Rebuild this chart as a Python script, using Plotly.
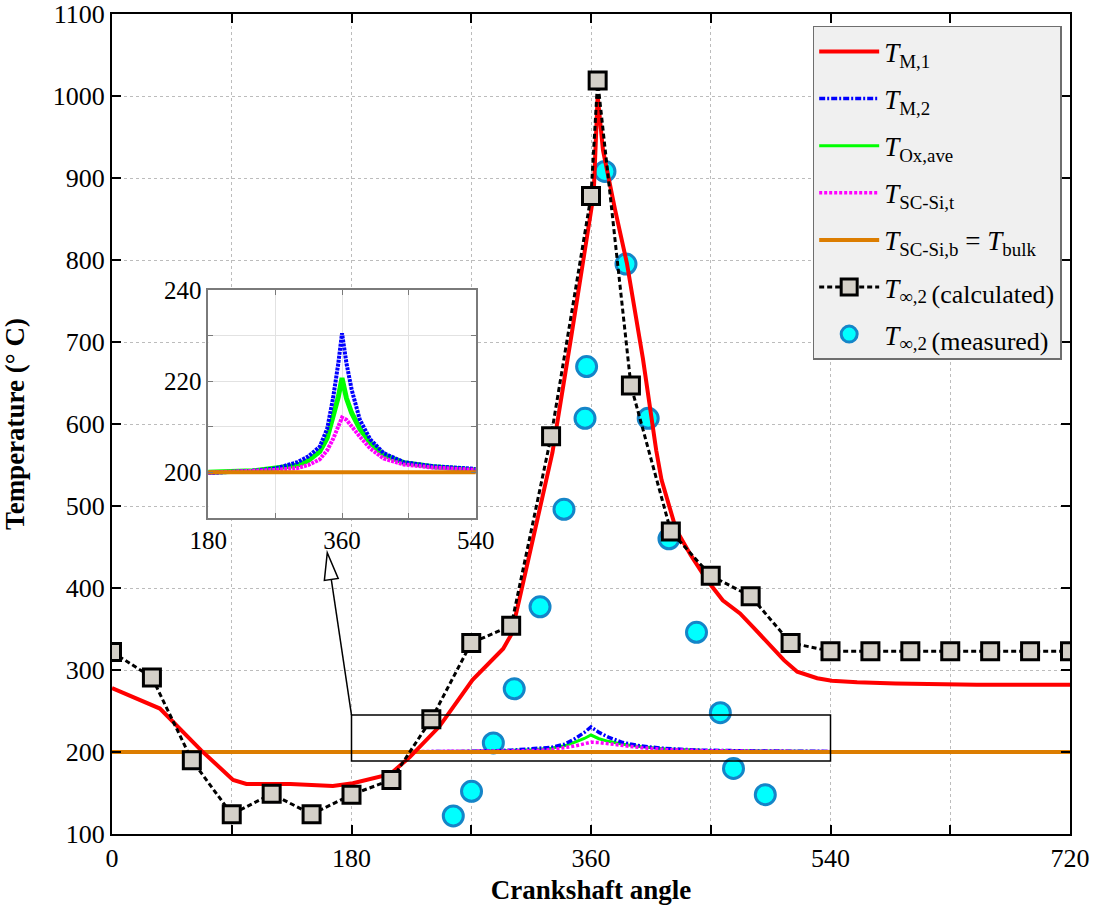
import plotly.graph_objects as go

# ---- data -------------------------------------------------------------
# T_inf,2 calculated (squares, dashed)
calc_angle = [0, 30, 60, 90, 120, 150, 180, 210, 240, 270, 300, 330, 360, 365,
              390, 420, 450, 480, 510, 540, 570, 600, 630, 660, 690, 720]
calc_temp = [322, 291, 190, 124, 149, 124, 148, 166, 240, 333, 354, 585, 878, 1019,
             647, 469, 415, 390, 333, 323, 323, 323, 323, 323, 323, 323]

# T_inf,2 measured (circles)
meas_angle = [256.5, 270.2, 286.6, 302.3, 321.7, 339.7, 355.5, 356.7, 370.5, 386.3,
              403.0, 418.6, 439.3, 457.2, 467.1, 491.0]
meas_temp = [122, 152, 211, 277, 377, 496, 607, 670, 908, 795,
             607, 460, 346, 248, 180, 148]

# T_M,1
m1_angle = [0, 36, 67, 91, 101, 134, 166, 181, 209, 224, 246, 271, 294, 300, 306,
            315, 331, 345, 362, 365, 369, 378, 387, 399, 409, 413, 424, 435, 447,
            459, 472, 482, 495, 505, 515, 530, 541, 560, 589, 616, 650, 720]
m1_temp = [278, 253, 202, 166, 161, 161, 158.5, 162, 173, 194, 231, 288, 326, 343, 385,
           450, 565, 705, 880, 1000, 934, 862, 796, 680, 568, 532, 471, 440, 410,
           385, 369, 352, 330, 312, 298, 290, 287, 285, 283.5, 282.3, 282, 282]

# oxide-layer / silicon temperatures around the combustion peak
peak_angle = [180, 240, 270, 300, 315, 330, 340, 348, 355, 360, 366, 373, 384,
              398, 416, 443, 483, 540]
m2_temp = [199.8, 200.3, 200.8, 202.2, 203.5, 205.6, 209.5, 216.3, 223.9, 230.5, 223.9,
           218.1, 211.5, 207.2, 204.2, 202.2, 201.3, 200.7]
sct_temp = [199.9, 200.2, 200.5, 200.9, 201.6, 202.8, 204.8, 207.3, 210.0, 212.0, 211.5,
            210.0, 207.8, 205.2, 203.0, 201.7, 201.0, 200.5]

ox_angle = [0, 180, 240, 270, 300, 315, 330, 340, 348, 355, 360, 366, 373, 384,
            398, 416, 443, 483, 540, 720]
ox_temp = [200.4, 200.0, 200.3, 200.8, 201.5, 202.6, 204.5, 207.5, 212.0, 216.5, 220.7,
           216.2, 213.0, 209.5, 206.5, 203.8, 202.1, 201.2, 200.5, 200.4]

bulk_angle = [0, 720]
bulk_temp = [200, 200]

# ---- styles -----------------------------------------------------------
FONT = "Liberation Serif"
RED, BLUE, GREEN, MAG, ORANGE = "#ff0000", "#0000ff", "#00ff00", "#ff00ff", "#dc7d00"

fig = go.Figure()

# measured points (drawn below the lines)
fig.add_trace(go.Scatter(
    x=meas_angle, y=meas_temp, mode="markers",
    marker=dict(symbol="circle", size=20, color="#00ffff",
                line=dict(color="#1585c8", width=3)),
    name="<i>T</i><sub>∞,2 <span style='font-size:26px'>(measured)</span></sub>",
    legendrank=7, legendgroup="g7"))

fig.add_trace(go.Scatter(x=ox_angle, y=ox_temp, mode="lines",
                         line=dict(color=GREEN, width=3),
                         name="<i>T</i><sub>Ox,ave</sub>", legendrank=3,
                         legendgroup="g3"))
fig.add_trace(go.Scatter(x=peak_angle, y=m2_temp, mode="lines",
                         line=dict(color=BLUE, width=3.5, dash="6px,2px,2px,2px"),
                         name="<i>T</i><sub>M,2</sub>", legendrank=2,
                         legendgroup="g2"))
fig.add_trace(go.Scatter(x=peak_angle, y=sct_temp, mode="lines",
                         line=dict(color=MAG, width=3.5, dash="3px,2px"),
                         name="<i>T</i><sub>SC-Si,t</sub>", legendrank=4,
                         legendgroup="g4"))
fig.add_trace(go.Scatter(x=bulk_angle, y=bulk_temp, mode="lines",
                         line=dict(color=ORANGE, width=4),
                         name="<i>T</i><sub>SC-Si,b</sub> = <i>T</i><sub>bulk</sub>",
                         legendrank=5, legendgroup="g5"))
fig.add_trace(go.Scatter(x=m1_angle, y=m1_temp, mode="lines",
                         line=dict(color=RED, width=4),
                         name="<i>T</i><sub>M,1</sub>", legendrank=1,
                         legendgroup="g1"))
fig.add_trace(go.Scatter(
    x=calc_angle, y=calc_temp, mode="lines+markers",
    line=dict(color="black", width=3, dash="5px,3px"),
    marker=dict(symbol="square", size=17, color="#d4d0c8",
                line=dict(color="black", width=3)),
    name="<i>T</i><sub>∞,2 <span style='font-size:26px'>(calculated)</span></sub>",
    legendrank=6, legendgroup="g6"))

# inset (zoom on the region 180-540 deg)
fig.add_trace(go.Scatter(x=ox_angle, y=ox_temp, mode="lines", xaxis="x2", yaxis="y2",
                         line=dict(color=GREEN, width=5), showlegend=False))
fig.add_trace(go.Scatter(x=peak_angle, y=m2_temp, mode="lines", xaxis="x2", yaxis="y2",
                         line=dict(color=BLUE, width=4, dash="3px,1px"),
                         showlegend=False))
fig.add_trace(go.Scatter(x=peak_angle, y=sct_temp, mode="lines", xaxis="x2", yaxis="y2",
                         line=dict(color=MAG, width=4, dash="3px,1px"),
                         showlegend=False))
fig.add_trace(go.Scatter(x=bulk_angle, y=bulk_temp, mode="lines", xaxis="x2", yaxis="y2",
                         line=dict(color=ORANGE, width=4), showlegend=False))

# ---- axes -------------------------------------------------------------
main_x_ticks = list(range(0, 721, 90))
main_x_text = [str(v) if v % 180 == 0 else "" for v in main_x_ticks]
inset_x_ticks = [180, 270, 360, 450, 540]
inset_x_text = [str(v) if v % 180 == 0 else "" for v in inset_x_ticks]
inset_y_ticks = [190, 200, 210, 220, 230, 240]
inset_y_text = [str(v) if v % 20 == 0 else "" for v in inset_y_ticks]

axis_common = dict(showline=True, linecolor="black", linewidth=2, mirror="ticks",
                   ticks="inside", ticklen=9, tickwidth=1.5, tickcolor="black",
                   showgrid=True, gridcolor="#bcbcbc", griddash="dot", gridwidth=1,
                   zeroline=False, automargin=False,
                   tickfont=dict(family=FONT, size=26, color="black"))

inset_common = dict(showline=True, linecolor="#7a7a7a", linewidth=1.5, mirror="ticks",
                    ticks="inside", ticklen=5, tickwidth=1, tickcolor="#7a7a7a",
                    showgrid=True, gridcolor="#e2e2e2", gridwidth=1, zeroline=False,
                    automargin=False,
                    tickfont=dict(family=FONT, size=25, color="black"))

fig.update_layout(
    width=1096, height=911,
    margin=dict(l=112, r=26, t=14, b=77, autoexpand=False),
    paper_bgcolor="white", plot_bgcolor="white",
    font=dict(family=FONT, color="black"),
    xaxis=dict(range=[0, 720], tickvals=main_x_ticks, ticktext=main_x_text,
               title=dict(text="<b>Crankshaft angle</b>",
                          font=dict(family=FONT, size=27), standoff=8),
               **axis_common),
    yaxis=dict(range=[100, 1100], dtick=100,
               title=dict(text="<b>Temperature (° C)</b>",
                          font=dict(family=FONT, size=27), standoff=20),
               **axis_common),
    xaxis2=dict(domain=[0.1005, 0.3797], anchor="y2", range=[180, 540],
                tickvals=inset_x_ticks, ticktext=inset_x_text, **inset_common),
    yaxis2=dict(domain=[0.3857, 0.6634], anchor="x2", range=[190, 240],
                tickvals=inset_y_ticks, ticktext=inset_y_text, **inset_common),
    legend=dict(x=0.7314, y=0.9854, xanchor="left", yanchor="top",
                bgcolor="#f0f0f0", bordercolor="#6e6e6e", borderwidth=1.5,
                font=dict(family=FONT, size=27, color="black"),
                tracegroupgap=9, itemwidth=60, itemsizing="trace"),
    showlegend=True,
)

# zoom box and arrow pointing at the inset
fig.add_shape(type="rect", xref="x", yref="y", x0=180, x1=540, y0=189, y1=245,
              line=dict(color="black", width=1.5), layer="above")
fig.add_shape(type="line", xref="x", yref="y", x0=180, y0=245, x1=164.8, y1=410.5,
              line=dict(color="black", width=1.5), layer="above")
fig.add_shape(type="path", xref="x", yref="y",
              path="M 161.8 443 L 170.0 411.7 L 159.6 409.3 Z",
              fillcolor="white", line=dict(color="black", width=1.5), layer="above")

fig.write_html("out.html")
